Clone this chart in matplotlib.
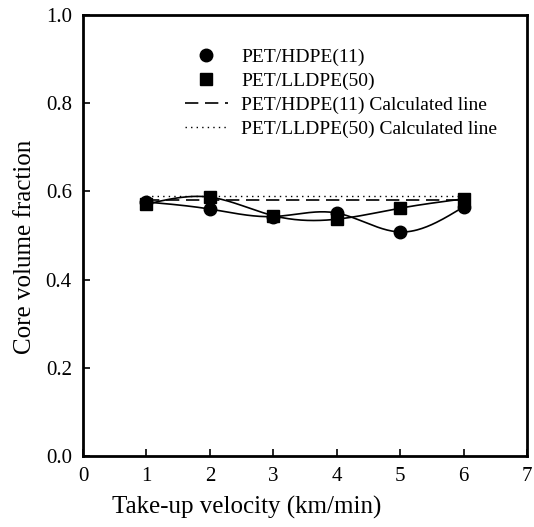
import numpy as np
import matplotlib
matplotlib.use("Agg")
import matplotlib.pyplot as plt

plt.rcParams['font.family'] = ['Liberation Serif', 'DejaVu Serif']

# data
velocity = [1, 2, 3, 4, 5, 6]
hdpe = [0.576, 0.560, 0.543, 0.551, 0.508, 0.565]
lldpe = [0.571, 0.587, 0.545, 0.537, 0.562, 0.583]
hdpe_calc = 0.581
lldpe_calc = 0.590


def natural_spline(x, y, n=200):
    # natural cubic spline for the smooth connecting curve
    x = np.asarray(x, float)
    y = np.asarray(y, float)
    k = len(x)
    h = np.diff(x)
    A = np.zeros((k, k))
    b = np.zeros(k)
    A[0, 0] = 1
    A[-1, -1] = 1
    for i in range(1, k - 1):
        A[i, i - 1] = h[i - 1]
        A[i, i] = 2 * (h[i - 1] + h[i])
        A[i, i + 1] = h[i]
        b[i] = 3 * ((y[i + 1] - y[i]) / h[i] - (y[i] - y[i - 1]) / h[i - 1])
    c = np.linalg.solve(A, b)
    xs = np.linspace(x[0], x[-1], n)
    ys = np.empty_like(xs)
    for j, xv in enumerate(xs):
        i = min(np.searchsorted(x, xv, side='right') - 1, k - 2)
        dx = xv - x[i]
        bi = (y[i + 1] - y[i]) / h[i] - h[i] * (2 * c[i] + c[i + 1]) / 3
        di = (c[i + 1] - c[i]) / (3 * h[i])
        ys[j] = y[i] + bi * dx + c[i] * dx ** 2 + di * dx ** 3
    return xs, ys


fig = plt.figure(figsize=(5.34, 5.27), dpi=100)
ax = fig.add_axes([0.1554, 0.1347, 0.8315, 0.8368])

xs, ys = natural_spline(velocity, hdpe)
ax.plot(xs, ys, color='black', lw=1.2)
xs, ys = natural_spline(velocity, lldpe)
ax.plot(xs, ys, color='black', lw=1.2)

ax.plot(velocity, hdpe, 'o', color='black', ms=9, label='PET/HDPE(11)')
ax.plot(velocity, lldpe, 's', color='black', ms=8, label='PET/LLDPE(50)')
ax.plot([velocity[0], velocity[-1]], [hdpe_calc, hdpe_calc], color='black',
        lw=1.2, dashes=(8, 4), label='PET/HDPE(11) Calculated line')
ax.plot([velocity[0], velocity[-1]], [lldpe_calc, lldpe_calc], color='black',
        lw=1.0, ls=(0, (1, 3)), label='PET/LLDPE(50) Calculated line')

ax.set_xlim(0, 7)
ax.set_ylim(0, 1.0)
ax.set_xticks(range(0, 8))
ax.set_yticks([0.0, 0.2, 0.4, 0.6, 0.8, 1.0])
ax.set_yticklabels(['0.0', '0.2', '0.4', '0.6', '0.8', '1.0'])
ax.tick_params(direction='in', length=5, width=1.2, labelsize=15, pad=8)
for s in ax.spines.values():
    s.set_linewidth(2)

ax.set_xlabel('Take-up velocity (km/min)', fontsize=18, labelpad=8)
ax.set_ylabel('Core volume fraction', fontsize=18, labelpad=4)
ax.xaxis.set_label_coords(0.368, -0.09)
ax.yaxis.set_label_coords(-0.105, 0.474)

ax.legend(loc='upper left', bbox_to_anchor=(0.19, 0.965), frameon=False,
          fontsize=14, handlelength=2.2, labelspacing=0.33, handletextpad=0.7)

fig.savefig('out.png', dpi=100)
